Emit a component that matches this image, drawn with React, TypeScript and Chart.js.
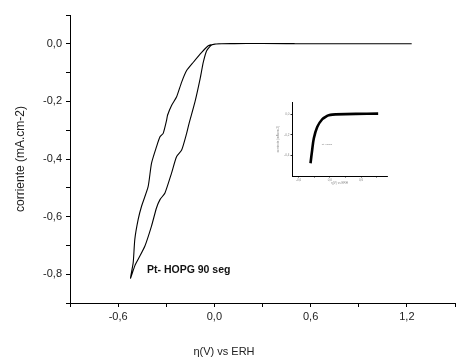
import React, { useEffect, useRef } from "react";
import { Chart, registerables } from "chart.js";

Chart.register(...registerables);

// Main voltammogram (η in V vs ERH, current in mA.cm-2)
const potential = [1.23, 0.9, 0.6, 0.3, 0.1, 0.03, -0.017, -0.048, -0.069, -0.089, -0.121, -0.158, -0.173, -0.204, -0.236, -0.267, -0.308, -0.339, -0.361, -0.392, -0.433, -0.475, -0.496, -0.523, -0.506, -0.496, -0.475, -0.454, -0.413, -0.392, -0.361, -0.339, -0.319, -0.298, -0.292, -0.267, -0.236, -0.204, -0.173, -0.131, -0.079, -0.038, 0.004, 0.05, 0.2, 0.5];
const current = [0.0, 0.0, 0.0, 0.001, 0.001, 0.0, -0.004, -0.024, -0.064, -0.122, -0.202, -0.277, -0.311, -0.369, -0.392, -0.449, -0.518, -0.541, -0.57, -0.633, -0.702, -0.748, -0.771, -0.814, -0.76, -0.679, -0.61, -0.564, -0.496, -0.415, -0.358, -0.323, -0.311, -0.266, -0.248, -0.214, -0.185, -0.133, -0.093, -0.064, -0.03, -0.007, -0.001, 0.0, 0.001, 0.001];

// Inset curve
const insetPotential = [-0.371, -0.34, -0.308, -0.242, -0.146, -0.06, -0.019, 0.05, 0.11, 0.5, 0.93];
const insetCurrent = [-0.476, -0.35, -0.235, -0.123, -0.048, -0.018, -0.01, -0.003, 0.0, 0.004, 0.007];

const xMin = -0.9, xMax = 1.5, xStep = 0.3;
const yMin = -0.9, yMax = 0.1, yStep = 0.1;

const yTitle = "corriente (mA.cm-2)";
const xTitle = "η(V) vs ERH";
const annotation = "Pt- HOPG 90 seg";

const FONT = "'Liberation Sans', Arial, sans-serif";

const fmt = (v: number) => {
  const r = Math.round(v * 10);
  return (r / 10).toFixed(1).replace(".", ",");
};

export default function App() {
  const mainRef = useRef<HTMLCanvasElement | null>(null);
  const insetRef = useRef<HTMLCanvasElement | null>(null);

  useEffect(() => {
    const mainData = potential.map((x, i) => ({ x, y: current[i] }));
    const textPlugin = {
      id: "texts",
      afterDraw(chart: any) {
        const ctx = chart.ctx;
        ctx.save();
        ctx.fillStyle = "#111";
        ctx.textBaseline = "middle";
        ctx.textAlign = "left";
        ctx.font = `bold 10.5px ${FONT}`;
        ctx.fillText(annotation, 147, 270);
        ctx.fillStyle = "#222";
        ctx.textAlign = "center";
        ctx.font = `11px ${FONT}`;
        ctx.fillText(xTitle, 224, 352);
        ctx.restore();
      },
    };
    const main = new Chart(mainRef.current as HTMLCanvasElement, {
      type: "scatter",
      data: {
        datasets: [
          {
            data: mainData,
            showLine: true,
            borderColor: "#000",
            borderWidth: 1.1,
            pointRadius: 0,
            tension: 0.2,
            fill: false,
          },
        ],
      },
      options: {
        animation: false,
        responsive: false,
        events: [],
        layout: { padding: { left: 0, top: 15, right: 1, bottom: 0 } },
        plugins: { legend: { display: false }, tooltip: { enabled: false } },
        scales: {
          x: {
            type: "linear",
            min: xMin,
            max: xMax,
            afterFit: (s: any) => {
              s.height = 55;
            },
            ticks: {
              stepSize: xStep,
              autoSkip: false,
              maxRotation: 0,
              padding: 3,
              color: "#222",
              font: { family: FONT, size: 11 },
              callback: (v: any) => (Math.round(Number(v) * 10) % 6 === 0 ? fmt(Number(v)) : ""),
            },
            grid: { drawOnChartArea: false, drawTicks: true, tickLength: 4, color: "#000", lineWidth: 1 },
            border: { display: true, color: "#000", width: 1 },
          },
          y: {
            type: "linear",
            min: yMin,
            max: yMax,
            afterFit: (s: any) => {
              s.width = 70;
            },
            ticks: {
              stepSize: yStep,
              autoSkip: false,
              padding: 4,
              color: "#222",
              font: { family: FONT, size: 11 },
              callback: (v: any) => (Math.round(Number(v) * 10) % 2 === 0 ? fmt(Number(v)) : ""),
            },
            grid: { drawOnChartArea: false, drawTicks: true, tickLength: 4, color: "#000", lineWidth: 1 },
            border: { display: true, color: "#000", width: 1 },
            title: {
              display: true,
              text: yTitle,
              color: "#222",
              font: { family: FONT, size: 12 },
              padding: { top: 13, bottom: 0 },
            },
          },
        },
      },
      plugins: [textPlugin],
    });

    const insetData = insetPotential.map((x, i) => ({ x, y: insetCurrent[i] }));
    const insetPlugin = {
      id: "insetTexts",
      afterDraw(chart: any) {
        const ctx = chart.ctx;
        ctx.save();
        ctx.fillStyle = "#777";
        ctx.textBaseline = "middle";
        ctx.textAlign = "center";
        ctx.font = `2.5px ${FONT}`;
        ctx.fillText("Pt-HOPG", 55, 48);
        ctx.restore();
      },
    };
    const inset = new Chart(insetRef.current as HTMLCanvasElement, {
      type: "scatter",
      data: {
        datasets: [
          {
            data: insetData,
            showLine: true,
            borderColor: "#000",
            borderWidth: 2.6,
            pointRadius: 0,
            tension: 0.3,
            fill: false,
          },
        ],
      },
      options: {
        animation: false,
        responsive: false,
        events: [],
        layout: { padding: { left: 0, top: 6, right: 5, bottom: 0 } },
        plugins: { legend: { display: false }, tooltip: { enabled: false } },
        scales: {
          x: {
            type: "linear",
            min: -0.727,
            max: 1.1,
            afterFit: (s: any) => {
              s.height = 14;
            },
            ticks: {
              stepSize: 0.3,
              includeBounds: false,
              autoSkip: false,
              maxRotation: 0,
              padding: 0.5,
              color: "#888",
              font: { family: FONT, size: 3 },
              callback: (v: any) => (Math.round(Number(v) * 10) % 6 === 0 ? fmt(Number(v)) : ""),
            },
            grid: { drawOnChartArea: false, drawTicks: true, tickLength: 1.5, color: "#000", lineWidth: 0.8 },
            border: { display: true, color: "#000", width: 1 },
            title: {
              display: true,
              text: xTitle,
              color: "#888",
              font: { family: FONT, size: 3 },
              padding: { top: 0, bottom: 5 },
            },
          },
          y: {
            type: "linear",
            min: -0.6,
            max: 0.12,
            afterFit: (s: any) => {
              s.width = 20;
            },
            ticks: {
              stepSize: 0.2,
              includeBounds: false,
              autoSkip: false,
              padding: 1,
              color: "#888",
              font: { family: FONT, size: 3 },
              callback: (v: any) => fmt(Number(v)),
            },
            grid: { drawOnChartArea: false, drawTicks: true, tickLength: 1.5, color: "#000", lineWidth: 0.8 },
            border: { display: true, color: "#000", width: 1 },
            title: {
              display: true,
              text: yTitle,
              color: "#888",
              font: { family: FONT, size: 3 },
              padding: { top: 4, bottom: 0 },
            },
          },
        },
      },
      plugins: [insetPlugin],
    });

    return () => {
      main.destroy();
      inset.destroy();
    };
  }, []);

  return (
    <div style={{ position: "fixed", left: 0, top: 0, width: 458, height: 358, background: "#fff" }}>
      <canvas ref={mainRef} width={458} height={358} style={{ position: "absolute", left: 0, top: 0, width: 458, height: 358 }} />
      <canvas ref={insetRef} width={120} height={94} style={{ position: "absolute", left: 272, top: 96, width: 120, height: 94 }} />
    </div>
  );
}
